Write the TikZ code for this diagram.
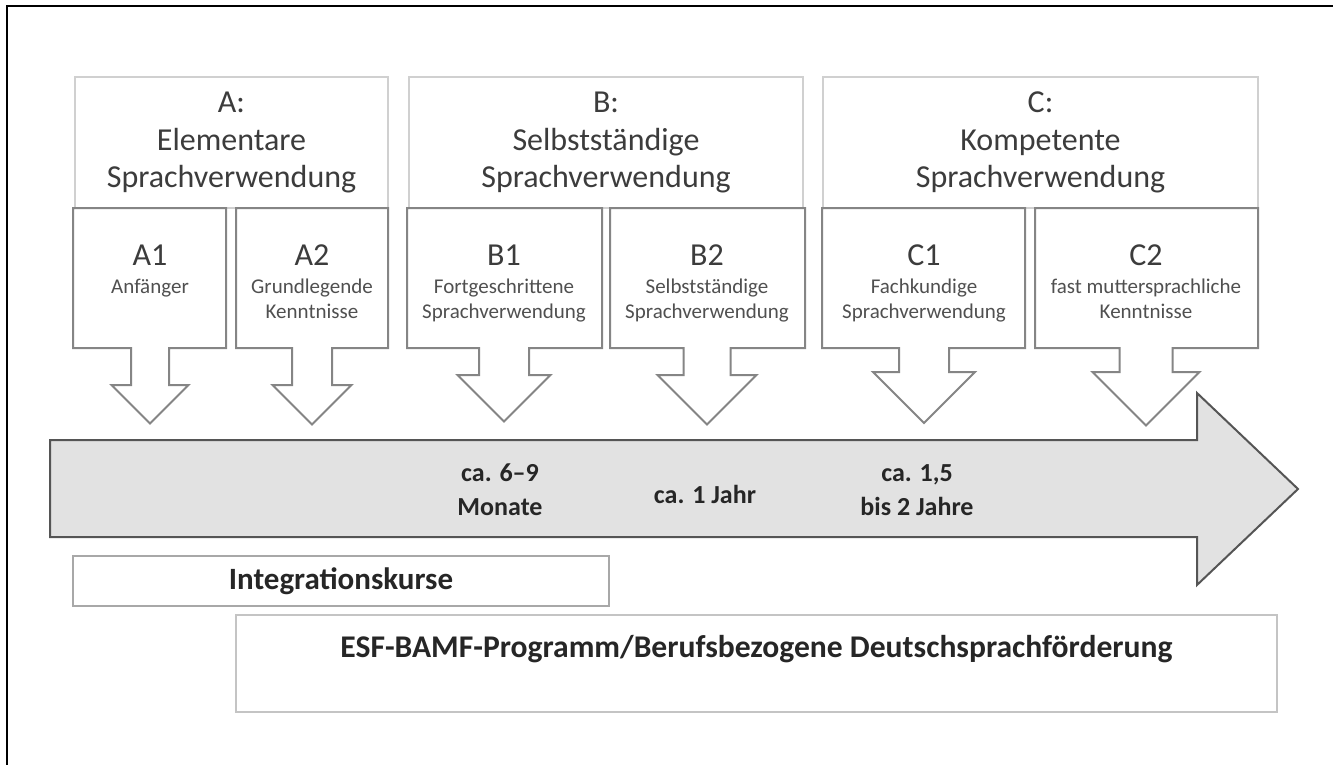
\documentclass[tikz,border=0pt]{standalone}
\usepackage{fontspec}
\setmainfont{Carlito}
\usetikzlibrary{positioning}
\definecolor{headgray}{HTML}{3C3C3C}
\definecolor{descgray}{HTML}{505050}
\definecolor{boxlight}{HTML}{D0D0D0}
\definecolor{levelgray}{HTML}{858585}
\definecolor{darkline}{HTML}{555555}
\definecolor{timefill}{HTML}{E2E2E2}
\definecolor{coursegray}{HTML}{A8A8A8}
\definecolor{progray}{HTML}{C4C4C4}
\tikzset{
  groupbox/.style={draw=boxlight, line width=0.6pt, inner sep=0pt, align=center, text=headgray, font=\fontsize{16}{18.75}\selectfont},
  levelline/.style={draw=levelgray, line width=1pt, fill=white},
  levelname/.style={text=headgray, inner sep=0pt, font=\fontsize{16}{19}\selectfont},
  leveltext/.style={text=descgray, align=center, anchor=north, inner sep=0pt, font=\fontsize{10.5}{12.5}\selectfont},
  timeline/.style={draw=darkline, line width=1pt, fill=timefill},
  timetext/.style={align=center, text=black!85, font=\bfseries\fontsize{13}{17}\selectfont},
  coursebox/.style={draw=coursegray, line width=0.8pt, inner sep=0pt, text=black!85, font=\bfseries\fontsize{15.5}{18}\selectfont}
}
% #1 left, #2 right, #3 middle, #4 stem half width, #5 head half width, #6 head top
\newcommand\levelarrow[6]{%
  \draw[levelline] (#1,208) -- (#2,208) -- (#2,348) -- ({#3+#4},348) -- ({#3+#4},#6)
    -- ({#3+#5},#6) -- (#3,{#6+#5}) -- ({#3-#5},#6) -- ({#3-#4},#6) -- ({#3-#4},348)
    -- (#1,348) -- cycle;}

\begin{document}
\begin{tikzpicture}[x=0.5pt,y=-0.5pt]
  \useasboundingbox (0,0) rectangle (1333,765);
  \draw[black, line width=1pt] (7,765) -- (7,6) -- (1333,6);

  \node[groupbox, minimum width=156.5pt, minimum height=65.5pt] (ga) at (231.5,142.5) {A:\\Elementare\\Sprachverwendung};
  \node[groupbox, minimum width=197pt, minimum height=65.5pt] (gb) at (606,142.5) {B:\\Selbstständige\\Sprachverwendung};
  \node[groupbox, minimum width=217.5pt, minimum height=65.5pt] (gc) at (1040.5,142.5) {C:\\Kompetente\\Sprachverwendung};

  \draw[timeline] (50,440) -- (1197,440) -- (1197,393) -- (1298,489)
    -- (1197,585) -- (1197,537) -- (50,537) -- cycle;

  \levelarrow{73}{226}{150}{19}{38.5}{385}
  \levelarrow{236}{388}{312}{20}{39.5}{385}
  \levelarrow{407}{602}{504}{25}{46.5}{375}
  \levelarrow{610}{805}{707}{23.5}{49.5}{375}
  \levelarrow{822}{1025}{924}{25}{51}{372}
  \levelarrow{1035}{1258}{1146}{26.5}{53.5}{372}

  \node[levelname] (a1) at (150,255) {A1};
  \node[leveltext] (a1d) at (150,279) {Anfänger};
  \node[levelname] (a2) at (312,255) {A2};
  \node[leveltext] (a2d) at (312,279) {Grundlegende\\Kenntnisse};
  \node[levelname] (b1) at (504,255) {B1};
  \node[leveltext] (b1d) at (504,279) {Fortgeschrittene\\Sprachverwendung};
  \node[levelname] (b2) at (707,255) {B2};
  \node[leveltext] (b2d) at (707,279) {Selbstständige\\Sprachverwendung};
  \node[levelname] (c1) at (924,255) {C1};
  \node[leveltext] (c1d) at (924,279) {Fachkundige\\Sprachverwendung};
  \node[levelname] (c2) at (1146,255) {C2};
  \node[leveltext] (c2d) at (1146,279) {fast muttersprachliche\\Kenntnisse};

  \node[timetext] (t69) at (500,490) {ca. 6–9\\Monate};
  \node[timetext] (t1) at (705,494) {ca. 1 Jahr};
  \node[timetext] (t152) at (917,490) {ca. 1,5\\bis 2 Jahre};

  \node[coursebox, minimum width=268pt, minimum height=25pt] (ik) at (341,581) {Integrationskurse};
  \node[coursebox, draw=progray, minimum width=520.5pt, minimum height=48.5pt] (esf) at (756.5,663.5) {};
  \node[coursebox, draw=none, anchor=north, below=10pt of esf.north, font=\bfseries\fontsize{15.8}{18}\selectfont] (esftext) {ESF-BAMF-Programm/Berufsbezogene Deutschsprachförderung};
\end{tikzpicture}
\end{document}
